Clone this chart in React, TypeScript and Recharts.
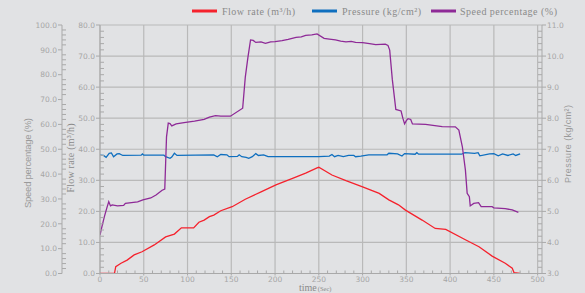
import React from 'react';
import { ComposedChart, Line, XAxis, YAxis, CartesianGrid } from 'recharts';

// ---- Data ----
const flowTime = [0, 16.5, 18, 24, 31, 39, 48, 62, 75, 85, 93, 107, 113, 119, 125, 130, 138, 151, 166, 184, 201, 220, 235, 248, 250, 265, 281, 300, 319, 330, 341, 349, 368, 383, 395, 418, 433, 448, 463, 471, 473, 480];
const flowValues = [0, 0, 2.2, 3.3, 4.3, 6.0, 7.0, 9.2, 11.8, 12.7, 14.7, 14.7, 16.5, 17.2, 18.3, 18.8, 20.2, 21.5, 23.9, 26.3, 28.5, 30.6, 32.3, 34.0, 34.2, 31.7, 29.9, 27.9, 25.8, 23.7, 22.1, 20.4, 17.2, 14.5, 14.2, 10.8, 8.6, 5.6, 3.3, 1.7, 0.3, 0];

const pressureTime = [0, 4, 7, 10.5, 13, 15.5, 19.5, 22, 26, 47, 48.5, 50, 73, 75, 80, 82, 85, 88, 130, 134, 138, 145, 147.5, 157, 159, 162, 167, 170, 174, 178, 181, 187, 192, 250, 262, 265, 268, 272, 278, 284, 290, 292, 298, 307, 328, 330, 340, 345, 348, 360, 362, 364, 413, 417, 428, 432, 434, 445, 450, 455, 460, 466, 472, 475, 480];
const pressureValues = [6.81, 6.8, 6.74, 6.87, 6.88, 6.76, 6.85, 6.86, 6.8, 6.81, 6.85, 6.81, 6.81, 6.76, 6.71, 6.75, 6.87, 6.8, 6.82, 6.76, 6.83, 6.82, 6.76, 6.77, 6.82, 6.76, 6.74, 6.71, 6.76, 6.86, 6.8, 6.82, 6.76, 6.76, 6.78, 6.83, 6.76, 6.8, 6.76, 6.8, 6.8, 6.76, 6.78, 6.82, 6.82, 6.87, 6.85, 6.78, 6.86, 6.84, 6.89, 6.84, 6.84, 6.89, 6.87, 6.89, 6.79, 6.85, 6.86, 6.79, 6.85, 6.8, 6.85, 6.8, 6.85];

const speedTime = [0, 2, 5, 8, 10, 12, 14, 20, 27, 29, 43, 49, 58, 64, 71, 74, 76, 78, 80, 82, 87, 96, 108, 119, 125, 132, 138, 149, 163, 166, 169, 172, 175, 178, 184, 189, 195, 200, 208, 215, 224, 230, 235, 242, 248, 256, 262, 269, 275, 281, 287, 292, 300, 308, 315, 326, 329, 331, 334, 338, 344, 346, 348, 350, 352, 355, 357, 372, 391, 406, 410, 414, 417.5, 419.5, 422, 423, 427, 432.5, 435.5, 448, 450, 463, 471, 478];
const speedValues = [15.5, 18.6, 22.9, 26.6, 28.9, 27.2, 27.6, 27.2, 27.4, 28.2, 28.8, 29.6, 30.4, 31.6, 33.5, 34.0, 55.0, 60.5, 60.3, 59.4, 60.2, 60.7, 61.3, 62.0, 62.9, 63.5, 63.3, 63.3, 66.5, 79.0, 87.0, 94.0, 93.8, 93.0, 93.2, 92.6, 93.2, 93.3, 93.7, 94.2, 95.0, 95.2, 95.8, 96.0, 96.4, 94.6, 94.3, 94.0, 93.5, 93.2, 93.4, 93.0, 92.9, 92.5, 92.1, 92.3, 91.8, 89.9, 78.0, 66.0, 65.4, 62.5, 60.2, 61.5, 62.3, 62.0, 60.2, 60.0, 59.1, 59.0, 57.7, 51.0, 41.6, 32.3, 30.9, 27.2, 28.2, 28.5, 26.9, 26.9, 26.4, 26.1, 25.6, 24.6];

// ---- Ticks ----
const xMajorTicks = [0, 50, 100, 150, 200, 250, 300, 350, 400, 450, 500];
const flowMajorTicks = [0, 10, 20, 30, 40, 50, 60, 70, 80];
// minor tick positions (every 10 s, every 2 units, every 0.2 kg/cm2)
const xTicks = Array.from({ length: 51 }, (_, i) => i * 10);
const flowTicks = Array.from({ length: 41 }, (_, i) => i * 2);
const speedTicks = Array.from({ length: 51 }, (_, i) => i * 2);
const pressureTicks = Array.from({ length: 41 }, (_, i) => Math.round((3 + i * 0.2) * 10) / 10);

const flowData = flowTime.map((t, i) => ({ t, v: flowValues[i] }));
const pressureData = pressureTime.map((t, i) => ({ t, v: pressureValues[i] }));
const speedData = speedTime.map((t, i) => ({ t, v: speedValues[i] }));

const BG = '#e1e2e4';
const AXIS = '#a9a9a9';
const GRID = '#b9b9b9';
const LABEL = '#a6a6a6';
const TICK_FONT = 'DejaVu Sans, sans-serif';
const TICK_SIZE = 7.5;

const isMajor = (v: number, step: number) => Math.abs(v / step - Math.round(v / step)) < 1e-6;

const LeftTick = (props: any) => {
  const { x, y, payload } = props;
  const v = payload.value as number;
  if (isMajor(v, 10)) {
    return (
      <g>
        <line x1={x - 4} x2={x} y1={y} y2={y} stroke={AXIS} strokeWidth={1} />
        <text x={x - 5} y={y} dy={2.7} textAnchor="end" fontSize={TICK_SIZE} fontFamily={TICK_FONT} fill={LABEL}>
          {v.toFixed(1)}
        </text>
      </g>
    );
  }
  return <line x1={x} x2={x + 4} y1={y} y2={y} stroke={AXIS} strokeWidth={1} />;
};

const RightTick = (props: any) => {
  const { x, y, payload } = props;
  const v = payload.value as number;
  if (isMajor(v, 1)) {
    return (
      <g>
        <line x1={x} x2={x + 4} y1={y} y2={y} stroke={AXIS} strokeWidth={1} />
        <text x={x + 5} y={y} dy={2.7} textAnchor="start" fontSize={TICK_SIZE} fontFamily={TICK_FONT} fill={LABEL}>
          {v.toFixed(1)}
        </text>
      </g>
    );
  }
  return <line x1={x - 4} x2={x} y1={y} y2={y} stroke={AXIS} strokeWidth={1} />;
};

const BottomTick = (props: any) => {
  const { x, y, payload } = props;
  const v = payload.value as number;
  if (isMajor(v, 50)) {
    return (
      <g>
        <line x1={x} x2={x} y1={y} y2={y + 2} stroke={AXIS} strokeWidth={1} />
        <text x={x} y={y + 8} textAnchor="middle" fontSize={TICK_SIZE} fontFamily={TICK_FONT} fill={LABEL}>
          {String(v)}
        </text>
      </g>
    );
  }
  return <line x1={x} x2={x} y1={y - 3} y2={y} stroke={AXIS} strokeWidth={1} />;
};

export default function App() {
  return (
    <div style={{ position: 'absolute', left: 0, top: 0, width: 585, height: 293, background: BG }}>
      <ComposedChart
        width={585}
        height={293}
        margin={{ top: 25, right: 13, bottom: 0, left: 24 }}
        style={{ background: BG }}
      >
        <CartesianGrid
          xAxisId="x"
          yAxisId="flow"
          stroke={GRID}
          strokeWidth={1.2}
          horizontalValues={flowMajorTicks}
          verticalValues={xMajorTicks}
        />
        <XAxis
          xAxisId="x"
          dataKey="t"
          type="number"
          domain={[0, 505]}
          ticks={xTicks}
          interval={0}
          tickSize={0}
          tickMargin={0}
          tick={BottomTick}
          height={19.5}
          stroke={AXIS}
          allowDataOverflow
        />
        <YAxis
          yAxisId="flow"
          orientation="left"
          type="number"
          domain={[0, 80]}
          ticks={flowTicks}
          interval={0}
          tickSize={0}
          tickMargin={0}
          tick={LeftTick}
          width={38}
          stroke={AXIS}
          allowDataOverflow
        />
        <YAxis
          yAxisId="speed"
          orientation="left"
          type="number"
          domain={[0, 100]}
          ticks={speedTicks}
          interval={0}
          tickSize={0}
          tickMargin={0}
          tick={LeftTick}
          width={38}
          stroke={AXIS}
          allowDataOverflow
        />
        <YAxis
          yAxisId="pressure"
          orientation="right"
          type="number"
          domain={[3, 11]}
          ticks={pressureTicks}
          interval={0}
          tickSize={0}
          tickMargin={0}
          tick={RightTick}
          width={30}
          stroke={AXIS}
          allowDataOverflow
        />
        <Line
          xAxisId="x"
          yAxisId="flow"
          data={flowData}
          dataKey="v"
          type="linear"
          stroke="#f5222d"
          strokeWidth={1.3}
          dot={false}
          isAnimationActive={false}
        />
        <Line
          xAxisId="x"
          yAxisId="pressure"
          data={pressureData}
          dataKey="v"
          type="linear"
          stroke="#0f6fbf"
          strokeWidth={1.3}
          dot={false}
          isAnimationActive={false}
        />
        <Line
          xAxisId="x"
          yAxisId="speed"
          data={speedData}
          dataKey="v"
          type="linear"
          stroke="#8e2a97"
          strokeWidth={1.3}
          dot={false}
          isAnimationActive={false}
        />

        {/* Legend */}
        <line x1={192} x2={217} y1={11} y2={11} stroke="#f5222d" strokeWidth={3} />
        <text x={222} y={15} fontSize={10} fontFamily="Liberation Serif, serif" fill="#8a8a8a" textLength={73} lengthAdjust="spacing">
          Flow rate (m³/h)
        </text>
        <line x1={312} x2={337} y1={11} y2={11} stroke="#0f6fbf" strokeWidth={3} />
        <text x={342} y={15} fontSize={10} fontFamily="Liberation Serif, serif" fill="#8a8a8a" textLength={79} lengthAdjust="spacing">
          Pressure (kg/cm²)
        </text>
        <line x1={431} x2={456} y1={11} y2={11} stroke="#8e2a97" strokeWidth={3} />
        <text x={460} y={15} fontSize={10} fontFamily="Liberation Serif, serif" fill="#8a8a8a" textLength={97} lengthAdjust="spacing">
          Speed percentage (%)
        </text>

        {/* Axis titles */}
        <text transform="translate(27,163) rotate(-90)" textAnchor="middle" dominantBaseline="central" fontSize={9.5} fontFamily="Liberation Sans, sans-serif" fill="#9a9a9a" textLength={90} lengthAdjust="spacing">
          Speed percentage (%)
        </text>
        <text transform="translate(70.5,158) rotate(-90)" textAnchor="middle" dominantBaseline="central" fontSize={10} fontFamily="Liberation Serif, serif" fill="#8a8a8a" textLength={69} lengthAdjust="spacing">
          Flow rate (m³/h)
        </text>
        <text transform="translate(568,144) rotate(-90)" textAnchor="middle" dominantBaseline="central" fontSize={9} fontFamily="Liberation Sans, sans-serif" fill="#9a9a9a" textLength={78} lengthAdjust="spacing">
          Pressure (kg/cm²)
        </text>
        <text x={299} y={290.5} fontFamily="Liberation Serif, serif" fill="#8a8a8a">
          <tspan fontSize={10}>time</tspan>
          <tspan fontSize={6.5} dx={1}>(Sec)</tspan>
        </text>
      </ComposedChart>
    </div>
  );
}
